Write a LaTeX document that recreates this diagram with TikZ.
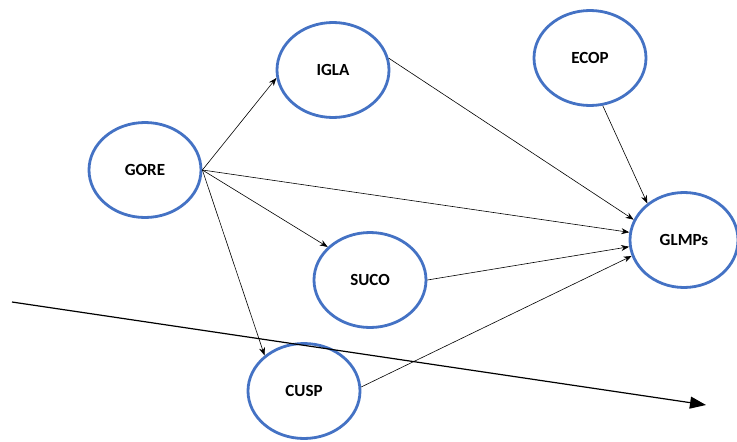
\documentclass[tikz,border=0pt]{standalone}
\usepackage{fontspec}
\setmainfont{Carlito}
\usetikzlibrary{shapes.geometric,arrows.meta}
\definecolor{circblue}{RGB}{68,114,196}
\tikzset{
	construct/.style={ellipse, draw=circblue, line width=2.8pt, fill=white, inner sep=0pt,
		minimum width=112pt, minimum height=95pt, font=\fontsize{17}{20}\selectfont\bfseries},
	path/.style={-{Stealth[length=8pt,width=6pt]}, line width=0.6pt}
}

\begin{document}
\begin{tikzpicture}[x=1pt,y=-1pt]
			%%%%% START %%%%%
			
			\useasboundingbox (0, 0) rectangle (737, 442);
			
			\node[construct] (gore) at (145, 170) {GORE};
			\node[construct] (igla) at (333, 70) {IGLA};
			\node[construct] (ecop) at (590, 58) {ECOP};
			\node[construct, minimum width=108pt] (glmps) at (684, 240) {GLMPs};
			\node[construct] (suco) at (370, 280) {SUCO};
			\node[construct] (cusp) at (304, 391) {CUSP};
			
			\draw[path] (gore.east) -- (igla.188);
			\draw[path] (gore.east) -- (suco.142);
			\draw[path] (gore.east) -- (cusp.138);
			\draw[path] (gore.east) -- (glmps.172);
			
			\draw[path] (igla.12) -- (glmps.158);
			\draw[path] (ecop.-75) -- (glmps.135);
			\draw[path] (suco.east) -- (glmps.187);
			\draw[path] (cusp.4) -- (glmps.197);
			
			\draw[-{Triangle[length=16pt,width=12pt]}, line width=1.2pt] (12, 302) -- (706, 405);
			
			%%%%% END %%%%%
\end{tikzpicture}
\end{document}
